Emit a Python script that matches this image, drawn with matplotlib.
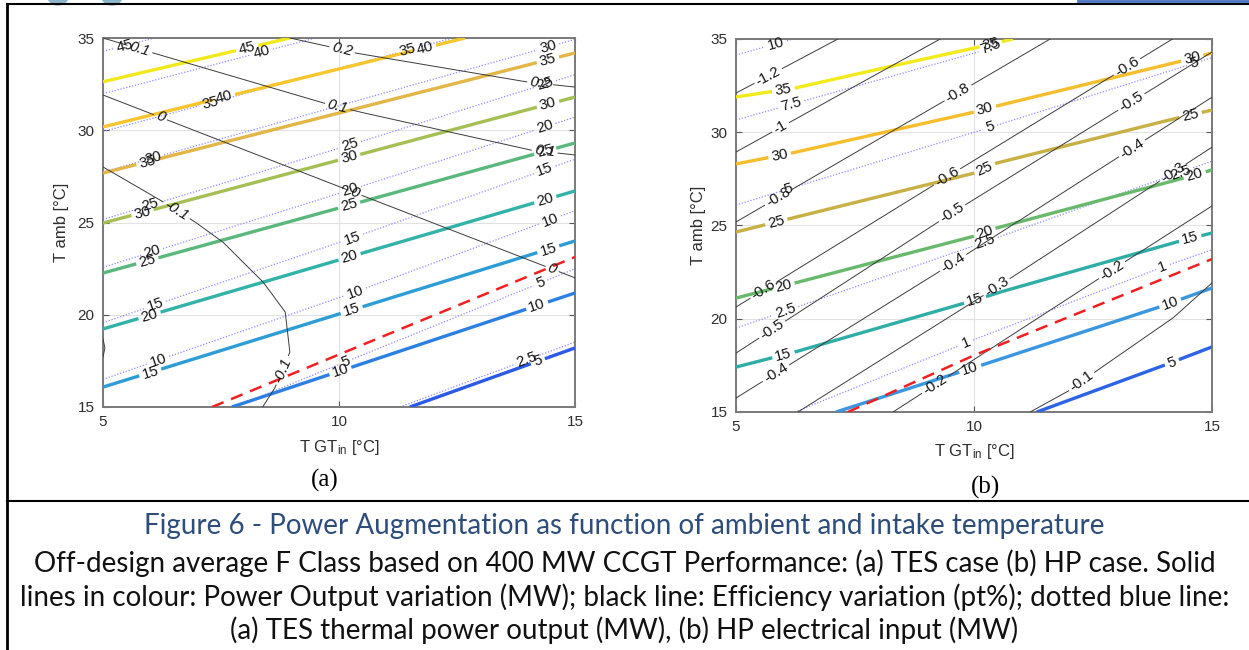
# 燃气轮机功率增强等值线图 (TES / HP)
import numpy as np
import matplotlib
matplotlib.use("Agg")
import matplotlib.pyplot as plt
from matplotlib.font_manager import FontProperties
from matplotlib.lines import Line2D
from matplotlib.patches import Circle
from matplotlib.transforms import IdentityTransform

# ---------------- (a) TES case ----------------
# 彩色实线: 功率输出变化 (MW), (T_GT_in, T_amb)
a_power = {
    "45": ([5, 8.96], [32.63, 35]),
    "40": ([5, 12.67], [30.18, 35]),
    "35": ([5, 15], [27.68, 34.19]),
    "30": ([5, 15], [24.97, 31.8]),
    "25": ([5, 15], [22.26, 29.31]),
    "20": ([5, 15], [19.23, 26.71]),
    "15": ([5, 15], [16.08, 24.0]),
    "10": ([7.73, 15], [15, 21.18]),
    "5": ([11.5, 15], [15, 18.2]),
}
a_power_labels = {
    "45": [(8.05, 34.46)],
    "40": [(7.58, 31.59), (11.82, 34.4)],
    "35": [(5.95, 28.22), (14.43, 33.81)],
    "30": [(5.89, 25.03), (10.23, 28.39), (14.43, 31.37)],
    "25": [(5.95, 22.86), (10.23, 25.84), (14.36, 28.93)],
    "20": [(5.95, 20.26), (10.23, 23.08), (14.36, 26.33)],
    "15": [(6.0, 16.9), (10.28, 20.15), (14.43, 23.62)],
    "10": [(10.02, 17.0), (14.2, 20.47)],
    "5": [(14.22, 17.44)],
}
# 黑线: 效率变化 (pt%)
a_eff = {
    "0.2": ([8.96, 9.64, 10.34, 13.98, 15], [35, 34.62, 34.19, 32.62, 32.34]),
    "0.1": ([5, 6.14, 9.75, 10.44, 14.05, 15], [35, 34.13, 31.42, 30.99, 28.93, 28.66]),
    "0": ([5, 10.2, 15], [31.91, 26.75, 22.0]),
    "-0.1": ([5, 6.21, 6.95, 7.54, 8.39, 8.86, 8.96, 8.64, 8.37],
             [28.01, 26.22, 25.03, 23.94, 21.78, 20.15, 17.98, 16.03, 14.95]),
}
a_eff_labels = {
    "0.2": [(10.06, 34.35), (14.26, 32.51)],
    "0.1": [(5.78, 34.35), (9.96, 31.21), (14.36, 28.77)],
    "0": [(6.21, 30.66), (10.34, 26.6), (14.51, 22.43)],
    "-0.1": [(6.57, 25.68), (8.79, 17.0)],
}
a_eff_edge = ([5, 5.04, 5], [18.7, 18.2, 17.7])
# 蓝色点线: TES 热功率输出 (MW)
a_tes = {
    "45": ([5, 6.1], [34.28, 35]),
    "40": ([5, 9.5], [31.98, 35]),
    "35": ([5, 12.41], [29.93, 35]),
    "30": ([5, 15], [27.74, 34.92]),
    "25": ([5, 10.23, 15], [25.17, 29.2, 33.01]),
    "20": ([5, 10.23, 15], [22.57, 26.76, 30.71]),
    "15": ([5, 10.28, 15], [19.57, 24.16, 28.43]),
    "10": ([5, 10.34, 15], [16.5, 21.23, 25.64]),
    "5": ([7.78, 14.26, 15], [15, 21.72, 22.49]),
    "2.5": ([11.29, 15], [15, 18.52]),
}
a_tes_labels = {
    "45": [(5.47, 34.62)],
    "40": [(8.37, 34.24)],
    "35": [(7.27, 31.48), (11.46, 34.35)],
    "30": [(6.06, 28.5), (14.43, 34.51)],
    "25": [(6.0, 25.95), (10.23, 29.2), (14.36, 32.5)],
    "20": [(6.04, 23.4), (10.23, 26.76), (14.36, 30.18)],
    "15": [(6.1, 20.53), (10.28, 24.16), (14.36, 27.85)],
    "10": [(6.17, 17.55), (10.34, 21.23), (14.47, 25.14)],
    "5": [(10.13, 17.44), (14.26, 21.72)],
    "2.5": [(13.98, 17.55)],
}
a_zero = ([7.31, 15], [15, 23.13])

# ---------------- (b) HP case ----------------
b_power = {
    "35": ([5, 6.24, 8.03, 10.02, 10.82], [31.89, 32.37, 33.41, 34.52, 35]),
    "30": ([5, 6.18, 10.02, 10.48, 14.29, 15], [28.3, 28.89, 31.09, 31.41, 33.77, 34.25]),
    "25": ([5, 6.18, 10.02, 10.48, 14.26, 15], [24.65, 25.4, 27.82, 28.35, 30.76, 31.19]),
    "20": ([5, 6.24, 10.02, 10.48, 14.26, 15], [21.11, 21.92, 24.44, 24.87, 27.44, 27.98]),
    "15": ([5, 6.24, 10.02, 10.55, 14.26, 15], [17.41, 18.22, 21.0, 21.43, 24.12, 24.6]),
    "10": ([7.1, 9.64, 10.17, 13.84, 15], [15, 17.09, 17.52, 20.58, 21.65]),
    "5": ([11.32, 14.01, 15], [15, 17.52, 18.49]),
}
b_power_labels = {
    "35": [(5.99, 32.37), (10.34, 34.79)],
    "30": [(5.92, 28.75), (10.23, 31.25), (14.58, 34.0)],
    "25": [(5.84, 25.2), (10.23, 28.0), (14.54, 31.0)],
    "20": [(5.99, 21.8), (10.23, 24.6), (14.64, 27.7)],
    "15": [(5.99, 18.1), (10.02, 21.0), (14.54, 24.3)],
    "10": [(9.92, 17.3), (14.12, 20.85)],
    "5": [(14.16, 17.66)],
}
b_eff = {
    "-1.2": ([5, 7.14], [32.1, 35]),
    "-1": ([5, 9.29], [28.94, 35]),
    "-0.8": ([5, 9.66, 11.6], [25.19, 32.1, 35]),
    "-0.6": ([5, 9.43, 14.17], [20.63, 27.6, 35]),
    "-0.5": ([5, 9.54, 15], [18.16, 25.67, 34.3]),
    "-0.4": ([5, 9.56, 15], [15.75, 22.99, 31.88]),
    "-0.3": ([6.3, 10.48, 15], [15, 21.7, 29.2]),
    "-0.2": ([8.3, 12.9, 15], [15, 22.61, 26.05]),
    "-0.1": ([11.18, 12.02, 12.6, 14.18, 15], [15, 16.18, 17.25, 20.04, 21.92]),
}
b_eff_labels = {
    "-1.2": [(5.67, 33.07)],
    "-1": [(5.92, 30.34)],
    "-0.8": [(5.88, 26.53), (9.66, 32.1)],
    "-0.6": [(5.61, 21.43), (9.43, 27.6), (13.21, 33.5)],
    "-0.5": [(5.76, 19.4), (9.54, 25.67), (13.32, 31.57)],
    "-0.4": [(5.86, 16.98), (9.56, 22.99), (13.32, 29.16)],
    "-0.3": [(10.48, 21.7), (14.18, 27.82)],
    "-0.2": [(9.18, 16.45), (12.9, 22.61)],
    "-0.1": [(12.27, 16.61)],
}
# 蓝色点线: HP 电输入 (MW)
b_hp = {
    "10": ([5, 6.2], [34.14, 35]),
    "7.5": ([5, 6.49, 10.02, 10.8], [30.66, 31.73, 34.25, 35]),
    "5": ([5, 10.02, 15], [26.1, 30.01, 34.0]),
    "2.5": ([5, 10.23, 15], [19.5, 24.12, 28.45]),
    "1": ([6.24, 9.98, 13.97, 15], [15, 18.86, 22.78, 23.7]),
}
b_hp_labels = {
    "10": [(5.86, 34.57)],
    "7.5": [(6.18, 31.35), (10.34, 34.68)],
    "5": [(6.1, 26.96), (10.34, 30.23), (14.64, 33.5)],
    "2.5": [(6.03, 20.47), (10.23, 24.12), (14.33, 27.87)],
    "1": [(9.85, 18.59), (13.97, 22.78)],
}
b_zero = ([7.35, 10.02, 15], [15, 18.06, 23.2])

a_colors = {"45": "#f2e91c", "40": "#f7c52e", "35": "#e2b647", "30": "#a6bf55",
            "25": "#5ab87c", "20": "#33b2a8", "15": "#2e9dd6", "10": "#2d80e0", "5": "#2b5ae6"}
b_colors = {"35": "#f3ea1a", "30": "#f6bd2c", "25": "#c7b044", "20": "#69b96c",
            "15": "#30ada6", "10": "#3a96df", "5": "#2d64e6"}

captions = [
    "Figure 6 - Power Augmentation as function of ambient and intake temperature",
    "Off-design average F Class based on 400 MW CCGT Performance: (a) TES case (b) HP case. Solid",
    "lines in colour: Power Output variation (MW); black line: Efficiency variation (pt%); dotted blue line:",
    "(a) TES thermal power output (MW), (b) HP electrical input (MW)",
]

plt.rcParams["font.family"] = ["Liberation Sans", "DejaVu Sans"]
plt.rcParams["mathtext.default"] = "regular"

W, H = 1249, 650
fig = plt.figure(figsize=(W / 100, H / 100), dpi=100)
renderer = fig.canvas.get_renderer()

LABEL_FS = 10.8


def draw_level(ax, xs, ys, text, spots, fs=LABEL_FS, tstyle="normal", **kw):
    # 画一条等值线, 在标注处留空 (类似 MATLAB clabel)
    trans = ax.transData
    pts = trans.transform(np.column_stack([xs, ys]))
    s = np.concatenate([[0], np.cumsum(np.hypot(*np.diff(pts, axis=0).T))])
    ss = np.linspace(0, s[-1], int(s[-1] * 2) + 2)
    px = np.interp(ss, s, pts[:, 0])
    py = np.interp(ss, s, pts[:, 1])
    keep = np.ones(len(ss), bool)
    w, h, d = renderer.get_text_width_height_descent(
        text, FontProperties(family="Liberation Sans", size=fs, style=tstyle), ismath=False)
    for sx, sy in spots:
        qx, qy = trans.transform((sx, sy))
        i = np.argmin(np.hypot(px - qx, py - qy))
        j0, j1 = max(i - 10, 0), min(i + 10, len(ss) - 1)
        ang = np.degrees(np.arctan2(py[j1] - py[j0], px[j1] - px[j0]))
        if ang > 90:
            ang -= 180
        elif ang < -90:
            ang += 180
        keep &= np.abs(ss - ss[i]) > w / 2 + 3
        lx, ly = trans.inverted().transform((px[i], py[i]))
        ax.text(lx, ly, text, fontsize=fs, style=tstyle, rotation=ang, rotation_mode="anchor",
                ha="center", va="center", color="#151515", zorder=7)
    xy = trans.inverted().transform(np.column_stack([px, py]))
    xy[~keep] = np.nan
    ax.plot(xy[:, 0], xy[:, 1], **kw)


def setup_axes(ax):
    ax.set_xlim(5, 15)
    ax.set_ylim(15, 35)
    ax.set_xticks([5, 10, 15])
    ax.set_yticks([15, 20, 25, 30, 35])
    ax.grid(True, color="#e2e2e2", lw=0.8)
    ax.set_axisbelow(True)
    ax.tick_params(direction="in", top=True, right=True, length=4, width=0.8, color="#555555",
                   labelsize=11, labelcolor="#2e2e2e", pad=6)
    for sp in ax.spines.values():
        sp.set_color("#7a7a7a")
        sp.set_linewidth(1.4)


dot_kw = dict(color="#8c8cff", lw=0.9, ls=(0, (1, 1.4)), zorder=2)
eff_kw = dict(color="#3c3c3c", lw=0.7, zorder=4)
red_kw = dict(color="#f02020", lw=1.8, ls=(0, (5, 3.2)), zorder=5)

# ---- (a) ----
ax1 = fig.add_axes([103 / W, 1 - 407 / H, 472 / W, 369 / H])
setup_axes(ax1)
for lev, (xs, ys) in a_tes.items():
    draw_level(ax1, xs, ys, lev, a_tes_labels[lev], **dot_kw)
for lev, (xs, ys) in a_power.items():
    draw_level(ax1, xs, ys, lev, a_power_labels[lev], color=a_colors[lev], lw=2.4,
               solid_capstyle="butt", zorder=3)
for lev, (xs, ys) in a_eff.items():
    draw_level(ax1, xs, ys, lev, a_eff_labels[lev], tstyle="italic", **eff_kw)
ax1.plot(*a_eff_edge, **eff_kw)
ax1.plot(*a_zero, **red_kw)
ax1.set_xlabel("T GT$_{in}$ [°C]", fontsize=12, color="#2e2e2e")
ax1.xaxis.set_label_coords(0.5, -0.083)
ax1.set_ylabel("T amb [°C]", fontsize=12, color="#2e2e2e")
ax1.yaxis.set_label_coords(-0.073, 0.5)

# ---- (b) ----
ax2 = fig.add_axes([736 / W, 1 - 412 / H, 476 / W, 373 / H])
setup_axes(ax2)
for lev, (xs, ys) in b_hp.items():
    draw_level(ax2, xs, ys, lev, b_hp_labels[lev], **dot_kw)
for lev, (xs, ys) in b_power.items():
    draw_level(ax2, xs, ys, lev, b_power_labels[lev], color=b_colors[lev], lw=2.4,
               solid_capstyle="butt", zorder=3)
for lev, (xs, ys) in b_eff.items():
    draw_level(ax2, xs, ys, lev, b_eff_labels[lev], **eff_kw)
ax2.plot(*b_zero, **red_kw)
ax2.set_xlabel("T GT$_{in}$ [°C]", fontsize=12, color="#2e2e2e")
ax2.xaxis.set_label_coords(0.5, -0.08)
ax2.set_ylabel("T amb [°C]", fontsize=12, color="#2e2e2e")
ax2.yaxis.set_label_coords(-0.062, 0.5)

fig.text(325 / W, 1 - 480 / H, "(a)", family="Liberation Serif", fontsize=18, ha="center", va="center")
fig.text(985 / W, 1 - 487 / H, "(b)", family="Liberation Serif", fontsize=18, ha="center", va="center")

# 页面边框等
fig.add_artist(Line2D([7 / W, 1], [1 - 4 / H, 1 - 4 / H], color="black", lw=1.5))
fig.add_artist(Line2D([7 / W, 7 / W], [0, 1 - 4 / H], color="black", lw=2))
fig.add_artist(Line2D([7 / W, 1], [1 - 501 / H, 1 - 501 / H], color="black", lw=1.5))
fig.add_artist(Line2D([1078 / W, 1], [1 - 1 / H, 1 - 1 / H], color="#4a72c0", lw=2))
for cx in (58, 112):
    fig.add_artist(Circle((cx, H + 6), 11, transform=IdentityTransform(), color="#8cb6c9"))

# 图注: 统一字号, 以第二、三行宽度为准
cap_y = [526, 563, 597, 630]
cap_col = ["#2e4d7b", "#111111", "#111111", "#111111"]
sizes = []
for txt, tw in ((captions[1], 1174), (captions[2], 1218)):
    probe = fig.text(0.5, 0.5, txt, fontsize=16, family="Lato")
    sizes.append(16 * tw / probe.get_window_extent(renderer).width)
    probe.remove()
size = float(np.mean(sizes))
for txt, y, c in zip(captions, cap_y, cap_col):
    fig.text(0.5, 1 - y / H, txt, fontsize=size, family="Lato", color=c, ha="center", va="center")

fig.savefig("out.png", dpi=100)
